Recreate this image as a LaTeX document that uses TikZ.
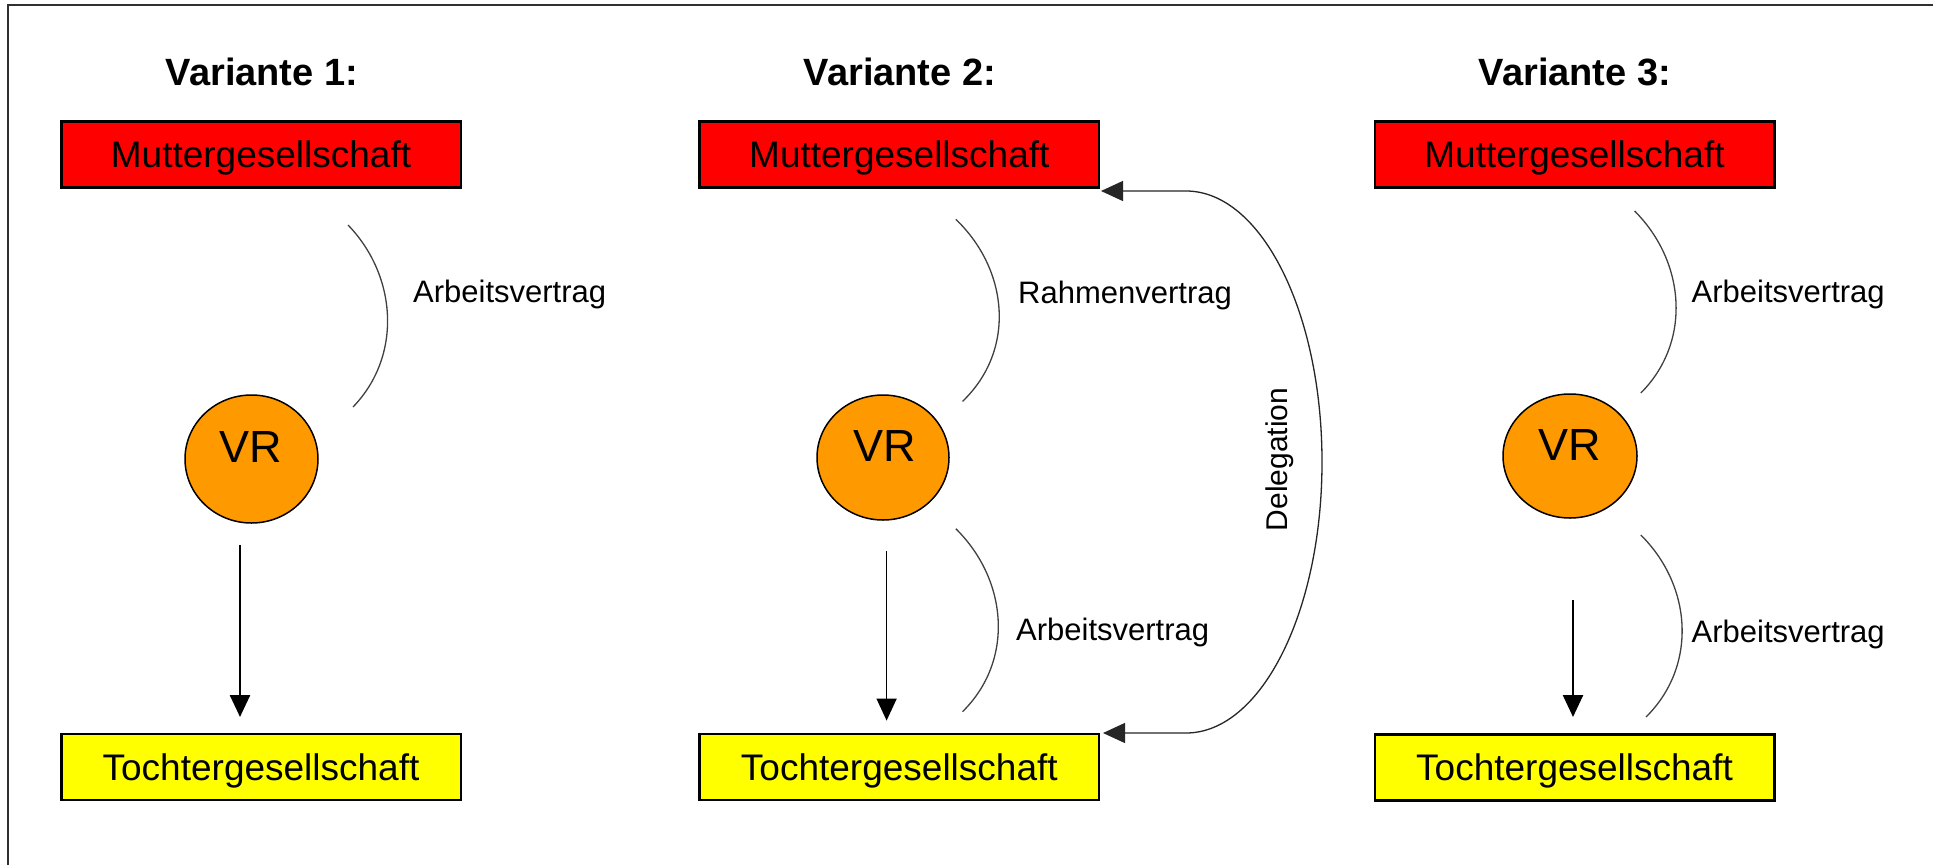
\documentclass[tikz,border=0pt]{standalone}
\usepackage{fontspec}
\setmainfont{Liberation Sans}
\usetikzlibrary{arrows.meta,shapes.geometric}
\definecolor{mred}{HTML}{FF0000}
\definecolor{tyel}{HTML}{FFFF00}
\definecolor{vrorange}{HTML}{FF9900}
\definecolor{arcgray}{HTML}{404040}
\definecolor{framegray}{HTML}{303030}
\begin{document}
\begin{tikzpicture}[x=1pt,y=-1pt,
  box/.style={draw=black,line width=2.5pt,minimum width=399.5pt,minimum height=66pt,inner sep=0pt,text depth=0pt,font=\fontsize{37}{44}\selectfont},
  mbox/.style={box,fill=mred},
  tbox/.style={box,fill=tyel},
  vtitle/.style={font=\bfseries\fontsize{38}{46}\selectfont,anchor=base,inner sep=0pt},
  vrell/.style={ellipse,draw=black,line width=1.5pt,fill=vrorange,inner sep=0pt},
  vrtext/.style={font=\fontsize{45}{54}\selectfont,inner sep=0pt,text depth=0pt},
  lbl/.style={font=\fontsize{31}{37}\selectfont,anchor=base west,inner sep=0pt},
  contract/.style={draw=arcgray,line width=1.3pt},
  downarrow/.style={draw=black,-{Triangle[length=22pt,width=20pt]}},
  deleg/.style={draw=black!85,line width=1.3pt,{Triangle[length=22pt,width=20pt]}-{Triangle[length=22pt,width=20pt]}}
]
\useasboundingbox (0,0) rectangle (1933,865);
\fill[white] (0,0) rectangle (1933,865);
% frame
\coordinate (fc) at (8,865);
\coordinate (fa) at (8,5);
\coordinate (fb) at (1933,5);
\draw[framegray,line width=2pt] (fc) -- (fa) -- (fb);

% ---------- Variante 1 ----------
\node[vtitle] (ti1) at (262,85) {Variante 1:};
\node[mbox] (m1) at (261,154.5) {Muttergesellschaft};
\node[tbox] (t1) at (261,767.2) {Tochtergesellschaft};
\node[vrell,minimum width=133pt,minimum height=128pt] (vr1) at (251.5,459) {};
\node[vrtext] (vrt1) at (251,447.5) {VR};
\coordinate (a1s) at (348,225);
\coordinate (a1e) at (353,407);
\draw[contract] (a1s) .. controls (397.3,276) and (402.3,356) .. (a1e);
\node[lbl] (l1) at (413,302) {Arbeitsvertrag};
\coordinate (p1s) at (240,545);
\coordinate (p1e) at (240,717);
\draw[downarrow,line width=2.5pt] (p1s) -- (p1e);

% ---------- Variante 2 ----------
\node[vtitle] (ti2) at (900,85) {Variante 2:};
\node[mbox] (m2) at (899.3,154.5) {Muttergesellschaft};
\node[tbox] (t2) at (899.3,767.2) {Tochtergesellschaft};
\node[vrell,minimum width=132pt,minimum height=125pt] (vr2) at (883,457.5) {};
\node[vrtext] (vrt2) at (884.5,446) {VR};
\coordinate (b1s) at (955.8,219.3);
\coordinate (b1e) at (962.5,401.4);
\draw[contract] (b1s) .. controls (1009,270.3) and (1015.8,350.4) .. (b1e);
\node[lbl] (l2a) at (1018,303) {Rahmenvertrag};
\coordinate (b2s) at (955.8,528.7);
\coordinate (b2e) at (962.5,711.7);
\draw[contract] (b2s) .. controls (1007.8,580) and (1014.5,660.5) .. (b2e);
\node[lbl] (l2b) at (1016,640) {Arbeitsvertrag};
\coordinate (p2s) at (886.6,551);
\coordinate (p2e) at (886.6,720.6);
\draw[downarrow,line width=1.5pt] (p2s) -- (p2e);
% Delegation
\coordinate (dM) at (1101,191);
\coordinate (dT) at (1103,733);
\draw[deleg] (dM) -- (1186,191) .. controls (1261,191) and (1322,312) .. (1322,462)
  .. controls (1322,612) and (1261,733) .. (1186,733) -- (dT);
\node[font=\fontsize{30}{36}\selectfont,rotate=90,inner sep=0pt] (dl) at (1280,459.5) {Delegation};

% ---------- Variante 3 ----------
\node[vtitle] (ti3) at (1575,85) {Variante 3:};
\node[mbox] (m3) at (1574.5,154.5) {Muttergesellschaft};
\node[tbox] (t3) at (1574.5,767.3) {Tochtergesellschaft};
\node[vrell,minimum width=134pt,minimum height=124pt] (vr3) at (1570,456) {};
\node[vrtext] (vrt3) at (1570,445) {VR};
\coordinate (c1s) at (1634.6,211);
\coordinate (c1e) at (1640.8,393);
\draw[contract] (c1s) .. controls (1685.6,262) and (1691.8,342) .. (c1e);
\node[lbl] (l3a) at (1691.5,302) {Arbeitsvertrag};
\coordinate (c2s) at (1640.8,535);
\coordinate (c2e) at (1646,717);
\draw[contract] (c2s) .. controls (1692.3,586) and (1697.5,666) .. (c2e);
\node[lbl] (l3b) at (1691.5,642.6) {Arbeitsvertrag};
\coordinate (p3s) at (1573,600);
\coordinate (p3e) at (1573,717);
\draw[downarrow,line width=2.5pt] (p3s) -- (p3e);
\end{tikzpicture}
\end{document}
